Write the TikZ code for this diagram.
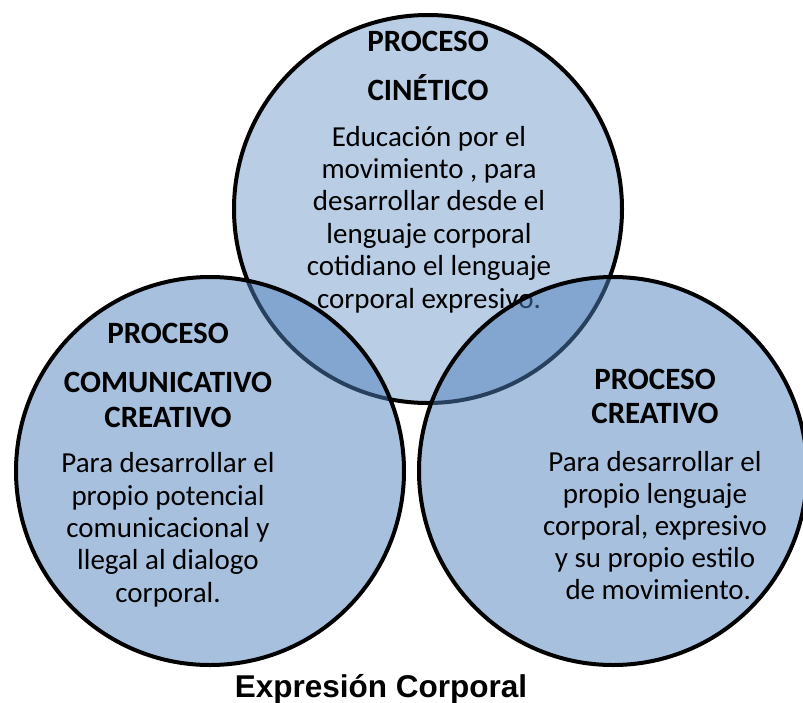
\documentclass[tikz,border=0pt]{standalone}
\usepackage{fontspec}
\setmainfont{Carlito}
\newfontfamily\titlefont{Liberation Sans}
\definecolor{topfill}{RGB}{185,205,229}
\definecolor{lowfill}{RGB}{79,129,189}
\tikzset{
  topcircle/.style={circle, draw=black, line width=4pt, fill=topfill, minimum size=388pt, inner sep=0pt},
  lowcircle/.style={circle, draw=black, line width=4pt, fill=lowfill, fill opacity=0.5, draw opacity=1, minimum size=388pt, inner sep=0pt},
  headtxt/.style={font=\fontsize{31}{49}\selectfont\bfseries, align=center, anchor=base, inner sep=0pt},
  bodytxt/.style={font=\fontsize{29}{32.4}\selectfont, align=center, anchor=base, inner sep=0pt},
}
\begin{document}
\begin{tikzpicture}[x=1pt,y=-1pt]
\useasboundingbox (0,0) rectangle (803,702);
\clip (0,0) rectangle (803,702);
\node[topcircle] (top) at (428,209) {};
\node[headtxt] (toph1) at (428,51) {PROCESO};
\node[headtxt] (toph2) at (428,100) {CINÉTICO};
\node[bodytxt] (topb) at (429,308) {Educación por el\\movimiento , para\\desarrollar desde el\\lenguaje corporal\\cotidiano el lenguaje\\corporal expresivo.};
\node[lowcircle] (left) at (210,471) {};
\node[lowcircle] (right) at (613,471) {};
\node[headtxt] (lefth1) at (168,343) {PROCESO};
\node[headtxt, font=\fontsize{31}{35}\selectfont\bfseries] (lefth2) at (168,427) {COMUNICATIVO\\CREATIVO};
\node[bodytxt, font=\fontsize{29}{32.3}\selectfont] (leftb) at (168,602) {Para desarrollar el\\propio potencial\\comunicacional y\\llegal al dialogo\\corporal.};
\node[headtxt, font=\fontsize{31}{34}\selectfont\bfseries] (righth) at (655,423) {PROCESO\\CREATIVO};
\node[bodytxt, font=\fontsize{29}{32}\selectfont] (rightb) at (655,599) {Para desarrollar el\\propio lenguaje\\corporal, expresivo\\y su propio estilo\\\ de movimiento.};
\node[font=\titlefont\fontsize{31.5}{36}\selectfont\bfseries, anchor=base, inner sep=0pt] (title) at (381,697) {Expresión Corporal};
\end{tikzpicture}
\end{document}
